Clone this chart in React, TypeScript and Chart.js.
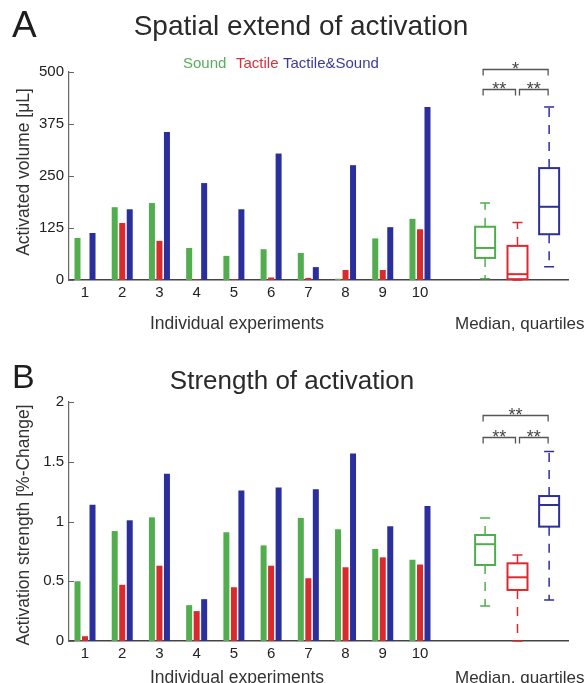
import React, { useEffect, useRef } from 'react';
import { Chart, registerables } from 'chart.js';

Chart.register(...registerables);

// ---------- data ----------
const experiments = [1, 2, 3, 4, 5, 6, 7, 8, 9, 10];
const seriesNames = ['Sound', 'Tactile', 'Tactile&Sound'];

const volumeSound = [101, 175, 185, 77, 58, 74, 65, 3, 100, 147];
const volumeTactile = [0, 137, 94, 1.5, 1.5, 6, 5, 24, 24, 122];
const volumeTactileSound = [113, 170, 356, 233, 170, 304, 31, 276, 127, 416];

const strengthSound = [0.5, 0.92, 1.035, 0.3, 0.91, 0.8, 1.03, 0.935, 0.77, 0.68];
const strengthTactile = [0.04, 0.47, 0.63, 0.25, 0.45, 0.63, 0.525, 0.617, 0.7, 0.64];
const strengthTactileSound = [1.14, 1.01, 1.4, 0.35, 1.26, 1.285, 1.27, 1.57, 0.96, 1.13];

// box plot stats: [min, q1, median, q3, max]
const volumeBoxSound = [3, 53, 77, 128, 185];
const volumeBoxTactile = [0, 2, 14, 82, 138];
const volumeBoxTactileSound = [32, 110, 176, 269, 416];

const strengthBoxSound = [0.293, 0.636, 0.81, 0.887, 1.03];
const strengthBoxTactile = [0.0, 0.427, 0.533, 0.65, 0.72];
const strengthBoxTactileSound = [0.343, 0.957, 1.138, 1.213, 1.585];

const boxPositions = [11.75, 12.62, 13.47];

const volumeTicks = [0, 125, 250, 375, 500];
const strengthTicks = [0, 0.5, 1, 1.5, 2];

// significance brackets: [fromBox, toBox, label, level]
const volumeSignif: [number, number, string, number][] = [
  [0, 1, '**', 459],
  [1, 2, '**', 459],
  [0, 2, '*', 507],
];
const strengthSignif: [number, number, string, number][] = [
  [0, 1, '**', 1.71],
  [1, 2, '**', 1.71],
  [0, 2, '**', 1.89],
];

// ---------- style ----------
const FONT = '"Liberation Sans", Arial, Helvetica, sans-serif';
const f = (s: number) => `${s}px ${FONT}`;
const barColors = ['#52ad4e', '#d92a2e', '#2b2f9c'];
const boxColors = ['#4fae4c', '#dc2a30', '#2d2f9a'];
const legendColors = ['#5aac5a', '#d8303f', '#3c3c98'];

type PanelCfg = {
  height: number;
  top: number;
  series: number[][];
  boxes: number[][];
  signif: [number, number, string, number][];
  yMax: number;
  yTicks: number[];
  padTop: number;
  padBottom: number;
  offsetY: number;
  letter: string;
  letterSize: number;
  letterBase: number;
  title: string;
  titleSize: number;
  titleCx: number;
  titleBase: number;
  legend: boolean;
  yTitle: string;
  yTitleCy: number;
  xTitleBase: number;
};

function decorPlugin(p: PanelCfg) {
  return {
    id: 'decor',
    afterDraw(chart: any) {
      const ctx: CanvasRenderingContext2D = chart.ctx;
      const xs = chart.scales.x;
      const ys = chart.scales.y;
      const area = chart.chartArea;
      const oy = p.offsetY;
      ctx.save();

      // inward y tick marks
      ctx.strokeStyle = '#666';
      ctx.lineWidth = 1;
      p.yTicks.forEach((v) => {
        const y = Math.round(ys.getPixelForValue(v)) + 0.5;
        ctx.beginPath();
        ctx.moveTo(area.left, y);
        ctx.lineTo(area.left + 5, y);
        ctx.stroke();
      });

      // box plots
      p.boxes.forEach((b, i) => {
        const [mn, q1, med, q3, mx] = b;
        const cx = xs.getPixelForValue(boxPositions[i]);
        const hw = 10;
        const col = boxColors[i];
        const yq1 = ys.getPixelForValue(q1);
        const yq3 = ys.getPixelForValue(q3);
        const ymd = ys.getPixelForValue(med);
        const ymn = ys.getPixelForValue(mn);
        const ymx = ys.getPixelForValue(mx);
        ctx.strokeStyle = col;
        // whiskers dashed
        ctx.lineWidth = 1.5;
        ctx.setLineDash([9, 8]);
        ctx.beginPath();
        ctx.moveTo(cx, yq3);
        ctx.lineTo(cx, ymx);
        ctx.moveTo(cx, yq1);
        ctx.lineTo(cx, ymn);
        ctx.stroke();
        ctx.setLineDash([]);
        // caps
        ctx.beginPath();
        ctx.moveTo(cx - 5, ymx);
        ctx.lineTo(cx + 5, ymx);
        ctx.moveTo(cx - 5, ymn);
        ctx.lineTo(cx + 5, ymn);
        ctx.stroke();
        // box
        ctx.lineWidth = 2;
        ctx.strokeRect(cx - hw, yq3, hw * 2, yq1 - yq3);
        ctx.beginPath();
        ctx.moveTo(cx - hw, ymd);
        ctx.lineTo(cx + hw, ymd);
        ctx.stroke();
      });

      // significance brackets
      ctx.strokeStyle = '#555';
      ctx.fillStyle = '#444';
      ctx.lineWidth = 1.3;
      ctx.font = f(18);
      ctx.textAlign = 'center';
      ctx.textBaseline = 'alphabetic';
      p.signif.forEach(([a, b, label, level]) => {
        let x1 = xs.getPixelForValue(boxPositions[a]) - 2;
        let x2 = xs.getPixelForValue(boxPositions[b]) - 1;
        if (b - a === 1 && a === 1) x1 += 4;
        if (b - a === 1 && a === 0) x2 -= 1;
        const y = Math.round(ys.getPixelForValue(level)) + 0.5;
        ctx.beginPath();
        ctx.moveTo(x1, y + 6);
        ctx.lineTo(x1, y);
        ctx.lineTo(x2, y);
        ctx.lineTo(x2, y + 6);
        ctx.stroke();
        ctx.fillText(label, (x1 + x2) / 2, y + 5);
      });

      // texts
      ctx.fillStyle = '#1e1e1e';
      ctx.textAlign = 'left';
      ctx.font = f(p.letterSize);
      ctx.fillText(p.letter, 12, p.letterBase - oy);

      ctx.textAlign = 'center';
      ctx.fillStyle = '#2a2a2a';
      ctx.font = f(p.titleSize);
      ctx.fillText(p.title, p.titleCx, p.titleBase - oy);

      if (p.legend) {
        ctx.textAlign = 'left';
        ctx.font = f(15);
        const lx = [183, 236, 283];
        seriesNames.forEach((n, i) => {
          ctx.fillStyle = legendColors[i];
          ctx.fillText(n, lx[i], 68 - oy);
        });
      }

      ctx.fillStyle = '#333';
      ctx.font = f(17.5);
      ctx.save();
      ctx.translate(29, p.yTitleCy - oy);
      ctx.rotate(-Math.PI / 2);
      ctx.textAlign = 'center';
      ctx.fillText(p.yTitle, 0, 0);
      ctx.restore();

      ctx.textAlign = 'left';
      ctx.font = f(17.5);
      ctx.fillText('Individual experiments', 150, p.xTitleBase - oy);
      ctx.font = f(17);
      ctx.fillText('Median, quartiles', 455, p.xTitleBase - oy);

      ctx.restore();
    },
  };
}

function makeConfig(p: PanelCfg): any {
  return {
    type: 'bar',
    data: {
      datasets: p.series.map((s, i) => ({
        label: seriesNames[i],
        data: experiments.map((e, j) => ({ x: e, y: s[j] })),
        backgroundColor: barColors[i],
        borderWidth: 0,
        categoryPercentage: 0.605,
        barPercentage: 0.8,
      })),
    },
    options: {
      responsive: false,
      animation: false,
      events: [],
      layout: { padding: { left: 0, right: 19, top: p.padTop, bottom: p.padBottom } },
      plugins: {
        legend: { display: false },
        title: { display: false },
        tooltip: { enabled: false },
      },
      scales: {
        x: {
          type: 'linear',
          min: 0.57,
          max: 13.977,
          offset: false,
          grid: { display: false, drawTicks: false },
          border: { display: true, color: '#444', width: 1.5 },
          afterBuildTicks: (scale: any) => {
            scale.ticks = experiments.map((v) => ({ value: v }));
          },
          afterFit: (scale: any) => {
            scale.height = 20;
          },
          ticks: {
            font: { family: FONT, size: 15 },
            color: '#222',
            padding: 4,
            maxRotation: 0,
            autoSkip: false,
            callback: (v: any) => String(v),
          },
        },
        y: {
          type: 'linear',
          min: 0,
          max: p.yMax,
          grid: { display: false, drawTicks: false },
          border: { display: true, color: '#666', width: 1.2 },
          afterBuildTicks: (scale: any) => {
            scale.ticks = p.yTicks.map((v) => ({ value: v }));
          },
          afterFit: (scale: any) => {
            scale.width = 69;
          },
          ticks: {
            font: { family: FONT, size: 15 },
            color: '#222',
            padding: 5,
            callback: (v: any) => String(v),
          },
        },
      },
    },
    plugins: [decorPlugin(p)],
  };
}

const topPanel: PanelCfg = {
  height: 340,
  top: 0,
  series: [volumeSound, volumeTactile, volumeTactileSound],
  boxes: [volumeBoxSound, volumeBoxTactile, volumeBoxTactileSound],
  signif: volumeSignif,
  yMax: 500,
  yTicks: volumeTicks,
  padTop: 72,
  padBottom: 40,
  offsetY: 0,
  letter: 'A',
  letterSize: 37,
  letterBase: 37,
  title: 'Spatial extend of activation',
  titleSize: 28,
  titleCx: 301,
  titleBase: 35,
  legend: true,
  yTitle: 'Activated volume [\u03bcL]',
  yTitleCy: 172,
  xTitleBase: 329,
};

const bottomPanel: PanelCfg = {
  height: 343,
  top: 340,
  series: [strengthSound, strengthTactile, strengthTactileSound],
  boxes: [strengthBoxSound, strengthBoxTactile, strengthBoxTactileSound],
  signif: strengthSignif,
  yMax: 2,
  yTicks: strengthTicks,
  padTop: 62,
  padBottom: 22,
  offsetY: 340,
  letter: 'B',
  letterSize: 34,
  letterBase: 388,
  title: 'Strength of activation',
  titleSize: 26,
  titleCx: 292,
  titleBase: 389,
  legend: false,
  yTitle: 'Activation strength [%-Change]',
  yTitleCy: 525,
  xTitleBase: 683,
};

function Panel({ cfg }: { cfg: PanelCfg }) {
  const ref = useRef<HTMLCanvasElement>(null);
  useEffect(() => {
    const chart = new Chart(ref.current as HTMLCanvasElement, makeConfig(cfg));
    return () => chart.destroy();
  }, []);
  return (
    <canvas
      ref={ref}
      width={587}
      height={cfg.height}
      style={{ position: 'absolute', left: 0, top: cfg.top, width: 587, height: cfg.height, display: 'block' }}
    />
  );
}

export default function App() {
  return (
    <div style={{ position: 'absolute', left: 0, top: 0, width: 587, height: 683, background: '#fff', overflow: 'hidden' }}>
      <Panel cfg={topPanel} />
      <Panel cfg={bottomPanel} />
    </div>
  );
}
